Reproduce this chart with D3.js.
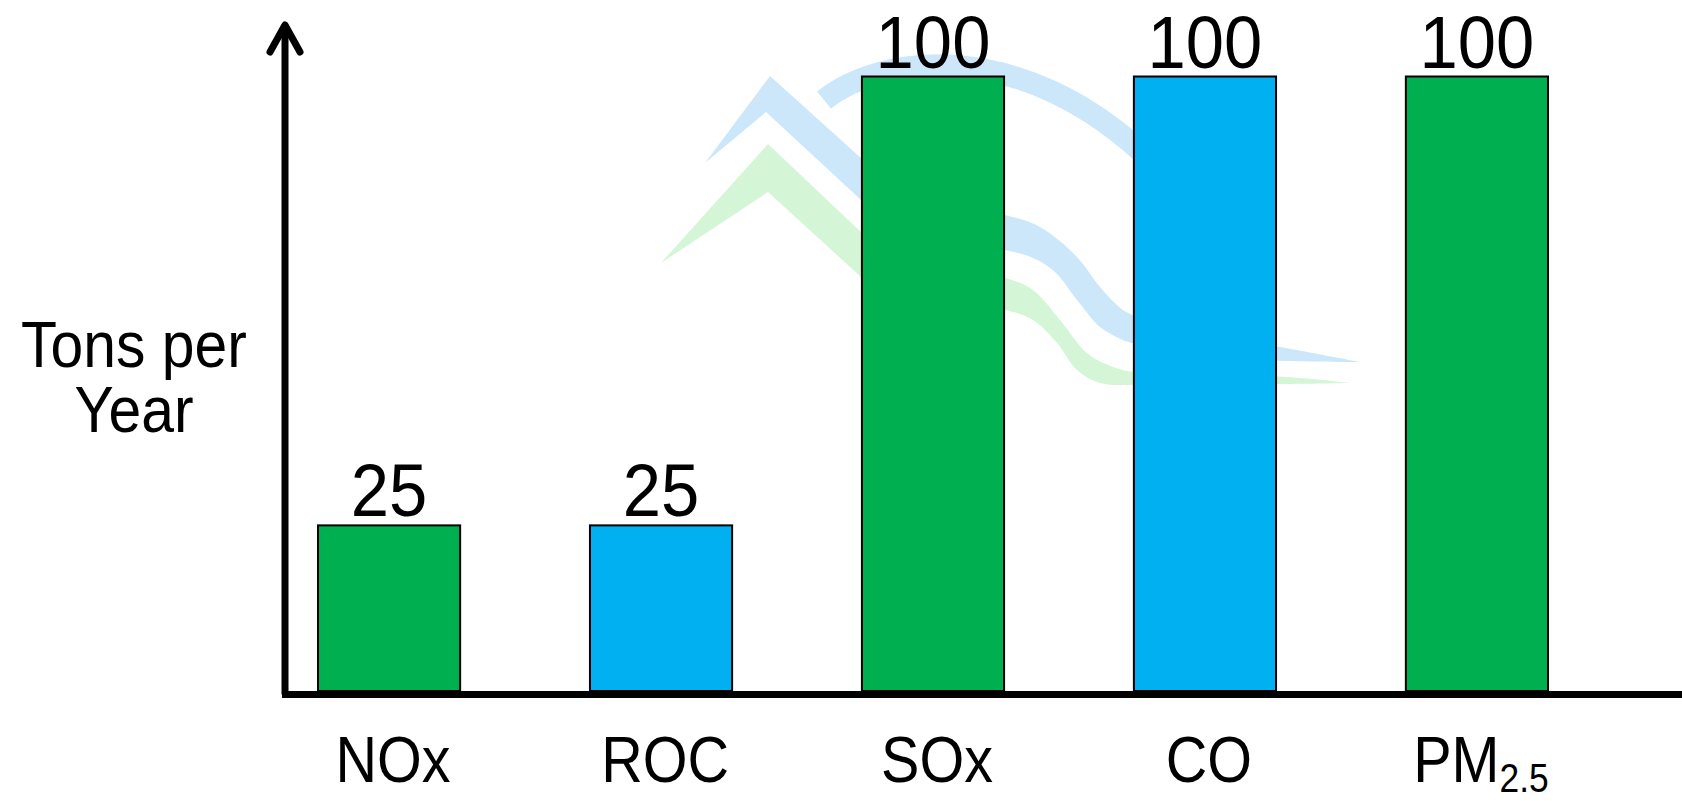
<!DOCTYPE html>
<html>
<head>
<meta charset="utf-8">
<script src="https://cdn.jsdelivr.net/npm/d3@7"></script>
<style>
  html, body { margin: 0; padding: 0; background: #ffffff; }
  svg { display: block; }
  text { font-family: "Liberation Sans", Arial, sans-serif; fill: #000; }
</style>
</head>
<body>
<svg id="chart" width="1682" height="801"></svg>
<script>
// ---- data ----
const categories = ["NOx", "ROC", "SOx", "CO", "PM"];
const categorySubscripts = ["", "", "", "", "2.5"];
const values = [25, 25, 100, 100, 100];
const barColors = ["#00B050", "#00B0F0", "#00B050", "#00B0F0", "#00B050"];
const yTitleLines = ["Tons per", "Year"];

// ---- layout ----
const W = 1682, H = 801;
const svg = d3.select("#chart");

const x = d3.scaleBand()
  .domain(categories)
  .range([317, 1549])
  .paddingInner(0.47)
  .paddingOuter(0);

const y = d3.scaleLinear()
  .domain([0, 100])
  .range([675, 76.5]);

const axisX = 285;       // vertical axis position
const axisY = 694.5;     // horizontal axis position
const barBase = 691;

// ---- watermark (decorative logo) ----
const smooth = pts => d3.line().curve(d3.curveCatmullRom.alpha(0.5))(pts).slice(1);
const wm = svg.append("g").attr("class", "watermark");

const blueUpper = [[861,158],[930,205],[1005,215],[1040,227],[1077,257],[1100,287],[1123,310],[1141,318],[1200,333],[1286,348],[1360,362]];
const blueLower = [[1360,362],[1286,361],[1200,356],[1141,345],[1123,340],[1100,327],[1077,300],[1055,272],[1033,258],[1005,250],[930,240],[861,200]];
wm.append("path")
  .attr("d", `M705,163L770,76L${smooth(blueUpper)}L${smooth(blueLower)}L766,112Z`)
  .attr("fill", "#CDE7FA");

const greenUpper = [[861,232],[930,268],[1005,278],[1033,290],[1060,320],[1087,353],[1113,367],[1141,373],[1286,377],[1350,383]];
const greenLower = [[1350,383],[1286,384],[1141,385],[1100,383],[1077,370],[1057,343],[1033,320],[1005,310],[930,300],[861,277]];
wm.append("path")
  .attr("d", `M661,263L768,144L${smooth(greenUpper)}L${smooth(greenLower)}L768,192Z`)
  .attr("fill", "#D4F6D6");

wm.append("path")
  .attr("d", "M824,100 C880,55 1020,35 1150,160")
  .attr("fill", "none")
  .attr("stroke", "#CDE7FA")
  .attr("stroke-width", 22);

// ---- bars ----
svg.append("g").selectAll("rect")
  .data(categories)
  .join("rect")
  .attr("x", d => x(d) + 1)
  .attr("width", x.bandwidth() - 2)
  .attr("y", (d, i) => y(values[i]))
  .attr("height", (d, i) => barBase - y(values[i]))
  .attr("fill", (d, i) => barColors[i])
  .attr("stroke", "#000")
  .attr("stroke-width", 2);

// ---- value labels ----
svg.append("g").selectAll("text")
  .data(categories)
  .join("text")
  .attr("text-anchor", "middle")
  .attr("font-size", 74)
  .attr("transform", (d, i) => `translate(${x(d) + x.bandwidth() / 2},${y(values[i]) - 9}) scale(0.93,1)`)
  .text((d, i) => values[i]);

// ---- axes ----
const axes = svg.append("g").attr("stroke", "#000").attr("fill", "none");
axes.append("line")
  .attr("x1", axisX).attr("x2", axisX)
  .attr("y1", 26).attr("y2", axisY)
  .attr("stroke-width", 7);
axes.append("polyline")
  .attr("points", `${axisX - 15},52 ${axisX},25 ${axisX + 15},52`)
  .attr("stroke-width", 7)
  .attr("stroke-linecap", "round")
  .attr("stroke-linejoin", "round");
axes.append("line")
  .attr("x1", axisX - 3).attr("x2", W)
  .attr("y1", axisY).attr("y2", axisY)
  .attr("stroke-width", 7);

// ---- category labels ----
const cat = svg.append("g").selectAll("text")
  .data(categories)
  .join("text")
  .attr("text-anchor", "middle")
  .attr("font-size", 65)
  .attr("transform", d => `translate(${x(d) + x.bandwidth() / 2 + 4},782) scale(0.885,1)`);
cat.append("tspan").text(d => d);
cat.filter((d, i) => categorySubscripts[i])
  .append("tspan")
  .attr("font-size", 40)
  .attr("dy", 10)
  .text((d) => categorySubscripts[categories.indexOf(d)]);

// ---- y title ----
svg.append("g").selectAll("text")
  .data(yTitleLines)
  .join("text")
  .attr("text-anchor", "middle")
  .attr("font-size", 64)
  .attr("transform", (d, i) => `translate(134,${367 + i * 65}) scale(0.92,1)`)
  .text(d => d);
</script>
</body>
</html>
